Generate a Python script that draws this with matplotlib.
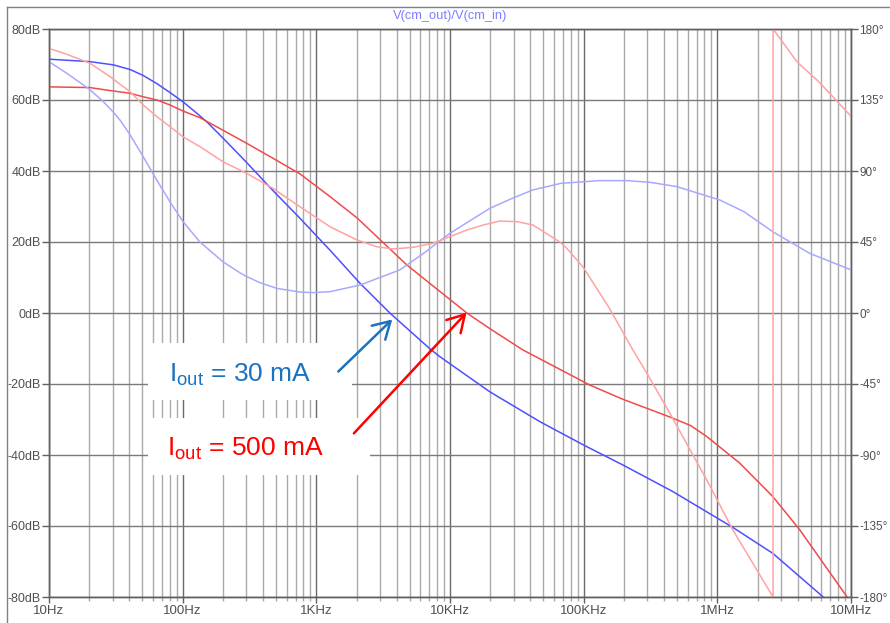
import numpy as np
import matplotlib
matplotlib.use("Agg")
import matplotlib.pyplot as plt
from matplotlib.patches import Rectangle
from matplotlib.lines import Line2D
from matplotlib.ticker import LogLocator, NullFormatter

plt.rcParams["font.family"] = ["Liberation Sans", "DejaVu Sans"]
plt.rcParams["mathtext.fontset"] = "custom"
plt.rcParams["mathtext.rm"] = "Liberation Sans"

# ------------------------------------------------------------
# AC sweep readings (log10 of frequency in Hz)
# ------------------------------------------------------------

# Iout = 30 mA, magnitude (dB)
lf_mag_30 = [1.0, 1.307, 1.481, 1.606, 1.705, 1.808, 1.905, 2.002, 2.105,
             2.182, 2.301, 2.430, 2.481, 2.675, 2.877, 3.102, 3.326, 3.550,
             3.850, 3.924, 4.298, 4.672, 5.000, 5.293, 5.667, 6.116, 6.415,
             6.789]
mag_30 = [71.5, 70.8, 69.9, 68.6, 66.9, 64.6, 62.1, 59.5, 56.3,
          53.8, 49.3, 44.3, 42.3, 34.5, 26.7, 17.7, 8.4, 0.0,
          -10.1, -12.3, -22.2, -30.6, -37.2, -42.8, -50.3, -60.4, -67.7,
          -79.9]

# Iout = 500 mA, magnitude (dB)
lf_mag_500 = [1.0, 1.307, 1.430, 1.606, 1.705, 1.808, 1.905, 2.002, 2.130,
              2.301, 2.479, 2.675, 2.877, 3.102, 3.304, 3.678, 4.126, 4.298,
              4.545, 5.046, 5.293, 5.645, 5.800, 5.921, 6.168, 6.415, 6.617,
              6.969]
mag_500 = [63.7, 63.5, 62.8, 61.9, 60.9, 60.0, 58.6, 56.9, 55.0,
           51.5, 47.8, 43.6, 39.2, 32.8, 26.8, 13.5, 0.0, -4.4,
           -10.4, -20.3, -24.3, -29.3, -31.7, -34.8, -42.3, -51.7, -61.1,
           -79.9]

# Iout = 30 mA, phase (deg)
lf_ph_30 = [1.0, 1.132, 1.307, 1.406, 1.479, 1.531, 1.606, 1.705, 1.808,
            1.905, 2.002, 2.129, 2.301, 2.428, 2.481, 2.578, 2.705, 2.877,
            2.975, 3.102, 3.326, 3.625, 3.820, 3.999, 4.150, 4.298, 4.450,
            4.620, 4.830, 5.121, 5.323, 5.500, 5.697, 6.019, 6.200, 6.415,
            6.691, 6.990]
ph_30 = [159.3, 152.0, 141.5, 134.0, 127.5, 122.3, 113.0, 99.0, 84.0,
         70.5, 58.0, 45.0, 32.5, 25.5, 23.0, 19.2, 15.6, 13.3,
         12.9, 13.5, 17.7, 27.3, 38.9, 50.5, 58.5, 66.3, 72.1,
         78.0, 82.2, 83.9, 83.9, 82.8, 80.1, 71.6, 64.2, 51.5,
         37.8, 27.7]

# Iout = 500 mA, phase (deg), wraps from -180 to +180 near 2.6 MHz
lf_ph_500 = [1.0, 1.132, 1.307, 1.456, 1.606, 1.705, 1.808, 1.905, 2.002,
             2.130, 2.301, 2.479, 2.675, 2.877, 3.102, 3.304, 3.451, 3.573,
             3.723, 3.872, 4.126, 4.250, 4.373, 4.500, 4.620, 4.700, 4.822,
             4.874, 4.994, 5.121, 5.196, 5.368, 5.473, 5.645, 5.921, 6.116,
             6.417, 6.417, 6.598, 6.759, 6.998]
ph_500 = [167.7, 164.0, 158.3, 149.8, 140.3, 131.8, 124.4, 118.1, 111.7,
          105.4, 95.9, 88.5, 79.0, 67.4, 54.7, 46.3, 42.0, 40.6,
          41.6, 44.2, 52.6, 55.8, 58.3, 57.9, 55.8, 51.5, 45.0,
          41.0, 29.3, 12.5, 2.5, -23.4, -38.2, -63.6, -105.8, -137.5,
          -180.0, 180.0, 159.0, 146.6, 124.9]

x_ticks = [1e1, 1e2, 1e3, 1e4, 1e5, 1e6, 1e7]
x_labels = ["10Hz", "100Hz", "1KHz", "10KHz", "100KHz", "1MHz", "10MHz"]
db_ticks = [80, 60, 40, 20, 0, -20, -40, -60, -80]
deg_ticks = [180, 135, 90, 45, 0, -45, -90, -135, -180]

# ------------------------------------------------------------
# FIGURE
# ------------------------------------------------------------

W, H = 890, 623
fig = plt.figure(figsize=(W / 100, H / 100), dpi=100)
fig.patch.set_facecolor("white")

ax = fig.add_axes([49 / W, 1 - 597 / H, (851 - 49) / W, (597 - 29) / H])
ax2 = ax.twinx()

grey_txt = "#505050"
spine_c = "#606060"

ax.set_xscale("log")
ax.set_xlim(10, 1e7)
ax.set_ylim(-80, 80)
ax2.set_ylim(-180, 180)

ax.set_xticks(x_ticks)
ax.set_xticklabels(x_labels)
ax.xaxis.set_minor_locator(LogLocator(base=10, subs=np.arange(2, 10)))
ax.xaxis.set_minor_formatter(NullFormatter())
ax.set_yticks(db_ticks)
ax.set_yticklabels([f"{v}dB" for v in db_ticks])
ax2.set_yticks(deg_ticks)
ax2.set_yticklabels([f"{v}°" for v in deg_ticks])

ax.grid(which="major", axis="x", color="#6a6a6a", lw=1.0)
ax.grid(which="minor", axis="x", color="#aaaaaa", lw=1.0)
ax.grid(which="major", axis="y", color="#7a7a7a", lw=1.0)

ax.tick_params(axis="y", direction="out", length=5, width=1, color=spine_c,
               labelsize=9, labelcolor=grey_txt, pad=1)
ax.tick_params(axis="x", which="major", direction="out", length=4, width=1,
               color=spine_c, labelsize=9.5, labelcolor=grey_txt, pad=2)
ax.tick_params(axis="x", which="minor", direction="out", length=3, width=1,
               color="#aaaaaa")
ax2.tick_params(axis="y", direction="out", length=5, width=1, color=spine_c,
                labelsize=8.5, labelcolor=grey_txt, pad=1)

for a in (ax, ax2):
    for s in a.spines.values():
        s.set_color(spine_c)
        s.set_linewidth(1.0)

# curves
ax.plot(10 ** np.array(lf_mag_30), mag_30, color="#4f4fff", lw=1.1, zorder=3)
ax.plot(10 ** np.array(lf_mag_500), mag_500, color="#f04a4a", lw=1.1, zorder=3)
ax2.plot(10 ** np.array(lf_ph_30), ph_30, color="#a8a8ff", lw=1.1)
ax2.plot(10 ** np.array(lf_ph_500), ph_500, color="#ffa2a2", lw=1.1)

# white label panels over the grid
for x0, y0, x1, y1 in [(148, 343, 352, 400), (148, 418, 370, 475)]:
    ax.add_patch(Rectangle((x0 / W, 1 - y1 / H), (x1 - x0) / W, (y1 - y0) / H,
                           transform=fig.transFigure, facecolor="white",
                           edgecolor="none", zorder=1.6))

blue_lbl = "#1a72c0"
red_lbl = "#ff0000"

ax.text(79, -19.4, "I$_{\\rm out}$ = 30 mA", color=blue_lbl, fontsize=19,
        ha="left", va="baseline", zorder=5)
ax.text(76, -40.0, "I$_{\\rm out}$ = 500 mA", color=red_lbl, fontsize=19,
        ha="left", va="baseline", zorder=5)

ax.annotate("", xy=(3700, -1.8), xytext=(1459, -16.5),
            arrowprops=dict(arrowstyle="->,head_length=0.6,head_width=0.35",
                            color=blue_lbl, lw=1.8, mutation_scale=20,
                            shrinkA=0, shrinkB=0), zorder=4)
ax.annotate("", xy=(13300, 0.1), xytext=(1910, -33.9),
            arrowprops=dict(arrowstyle="->,head_length=0.6,head_width=0.35",
                            color=red_lbl, lw=1.8, mutation_scale=20,
                            shrinkA=0, shrinkB=0), zorder=4)

# title and window frame
fig.text(450 / W, 1 - 16 / H, "V(cm_out)/V(cm_in)", color="#7f7fff",
         fontsize=9.3, ha="center", va="center")
fig.add_artist(Line2D([7 / W, 1], [1 - 7 / H, 1 - 7 / H],
                      transform=fig.transFigure, color="#808080", lw=1))
fig.add_artist(Line2D([7 / W, 7 / W], [0, 1 - 7 / H],
                      transform=fig.transFigure, color="#808080", lw=1))

fig.savefig("out.png", dpi=100)
